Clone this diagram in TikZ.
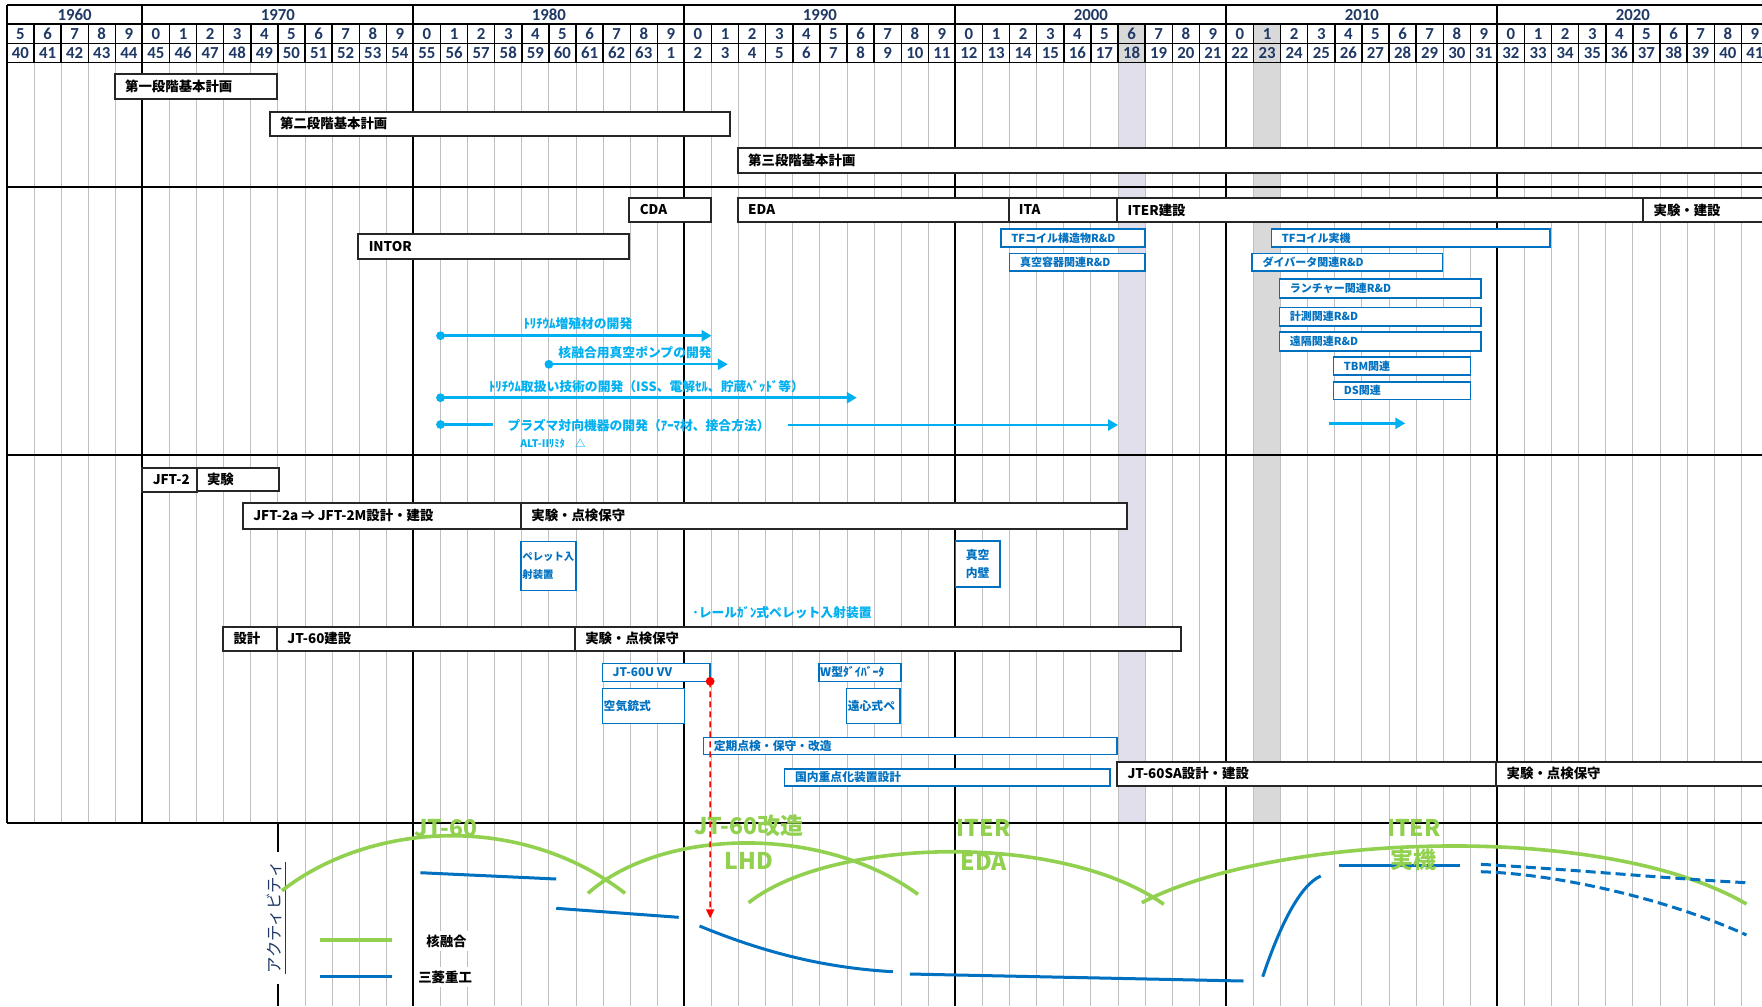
\documentclass[tikz,border=0pt]{standalone}
\usepackage{fontspec}
\setmainfont{Noto Sans CJK JP}
\newfontfamily\jpf{Noto Sans CJK JP}
\newfontfamily\numf{Carlito}
\usetikzlibrary{arrows.meta}
\definecolor{tnavy}{RGB}{31,56,100}
\definecolor{tgrid}{RGB}{191,191,191}
\definecolor{tcell}{RGB}{217,217,217}
\definecolor{tlav}{RGB}{225,223,236}
\definecolor{tblue}{RGB}{0,112,192}
\definecolor{tcyan}{RGB}{0,176,240}
\definecolor{tgreen}{RGB}{146,208,80}
\definecolor{tred}{RGB}{255,0,0}
\newcommand{\hdrfont}{\numf\bfseries\fontsize{8.4}{9}\selectfont}
\newcommand{\boxfont}{\jpf\bfseries\fontsize{6.7}{8}\selectfont}
\newcommand{\bluefont}{\jpf\bfseries\fontsize{5.9}{8.7}\selectfont}
\newcommand{\rdfont}{\jpf\bfseries\fontsize{5.5}{7}\selectfont}
\newcommand{\cyfont}{\jpf\bfseries\fontsize{6.4}{8}\selectfont}
\newcommand{\bigfont}{\jpf\bfseries\fontsize{11.5}{13}\selectfont}
% one bar of the chart: [text opts]{style}{name}{from}{to}{top}{bottom}{text}
\newcommand{\gbar}[8][]{%
  \node[#2, anchor=north west, minimum width={(#5-#4)*13.55pt},
        minimum height={(#7-#6)*0.5pt}] (#3) at (#4,#6) {};
  \node[#2 txt, anchor=west, #1] (#3-t) at (#3.west) {#8};}

\begin{document}
\begin{tikzpicture}[x=13.55pt,y=-0.5pt,
  hdr/.style={black,line width=0.7pt},
  dec/.style={black,line width=1pt},
  hdr txt/.style={font=\hdrfont,text=tnavy,inner sep=0pt},
  blk/.style={draw=black!85,line width=1pt,fill=white,inner sep=0pt,outer sep=0pt},
  blk txt/.style={font=\boxfont,inner xsep=5pt,inner ysep=0pt},
  blu/.style={draw=tblue,line width=0.8pt,fill=white,inner sep=0pt,outer sep=0pt},
  blu txt/.style={font=\bluefont,text=tblue,inner xsep=5pt,inner ysep=0pt},
  rnd/.style={blu},
  rnd txt/.style={font=\rdfont,text=tblue,inner xsep=5pt,inner ysep=0pt},
  cyarr/.style={draw=tcyan,line width=1.3pt,-{Triangle[length=5pt,width=5.5pt]}},
  cyline/.style={draw=tcyan,line width=1.3pt},
  cytxt/.style={font=\cyfont,text=tcyan,inner sep=0pt},
  grn/.style={draw=tgreen,line width=1.8pt},
  mhi/.style={draw=tblue,line width=1.5pt},
  mhidash/.style={mhi,dash pattern=on 5pt off 2.5pt},
  bigl/.style={font=\bigfont,text=tgreen,inner sep=0pt},
  legtxt/.style={font=\boxfont,fill=white,inner sep=2pt}]
 \clip (-0.2546,0) rectangle (64.763,1006);
 \fill[white] (-0.2546,0) rectangle (64.763,1006);

 % highlighted years (2006, 2011)
 \fill[tcell] (41,24) rectangle (42,62.7) (46,24) rectangle (47,62.7);
 \fill[tlav] (41,62.7) rectangle (42,823);
 \fill[tcell] (46,62.7) rectangle (47,823);

 % grid
 \foreach \i in {1,...,64} \draw[tgrid,line width=0.5pt] (\i,62.7) -- (\i,823);
 \foreach \i in {11,...,64} \draw[tgrid,line width=0.5pt] (\i,823) -- (\i,1006);
 \foreach \i in {0,...,64} \draw[hdr] (\i,24) -- (\i,62.7);
 \foreach \y in {5,24,43.3,62.7} \draw[hdr] (0,\y) -- (65,\y);
 \draw[dec] (0,5) -- (0,823);
 \foreach \d in {5,15,...,55} \draw[dec] (\d,5) -- (\d,823);
 \foreach \d in {15,25,...,55} \draw[dec] (\d,823) -- (\d,1006);
 \foreach \y in {186.7,455,823} \draw[dec] (0,\y) -- (65,\y);

 % header
 \foreach \d/\c in {1960/2.5,1970/10,1980/20,1990/30,2000/40,2010/50,2020/60}
   \node[hdr txt] (dec\d) at (\c,14.8) {\d};
 \foreach \i in {0,...,64}{
   \pgfmathtruncatemacro{\dg}{mod(\i+5,10)}
   \pgfmathtruncatemacro{\er}{\i<24 ? \i+40 : (\i==24 ? 1 : \i-23)}
   \node[hdr txt] (yr\i) at (\i+0.5,33.9) {\dg};
   \node[hdr txt] (er\i) at (\i+0.5,53.2) {\er};
 }

 % basic plans
 \gbar{blk}{stg1}{3.98}{9.98}{74.3}{99.3}{第一段階基本計画}
 \gbar{blk}{stg2}{9.7}{26.7}{111.7}{135.7}{第二段階基本計画}
 \gbar{blk}{stg3}{26.97}{66}{147.7}{172.7}{第三段階基本計画}

 % ITER
 \gbar{blk}{cda}{22.97}{25.97}{197.7}{222.3}{CDA}
 \gbar{blk}{eda}{26.97}{36.96}{197.7}{222.3}{EDA}
 \gbar{blk}{ita}{36.96}{40.97}{197.7}{222.3}{ITA}
 \gbar{blk}{iterc}{40.97}{60.38}{197.7}{222.3}{ITER建設}
 \gbar{blk}{iterx}{60.38}{66}{197.7}{222.3}{実験・建設}
 \gbar{blk}{intor}{12.97}{22.97}{234.3}{259.3}{INTOR}
 \gbar{rnd}{tfs}{36.68}{42}{229}{246.7}{TFコイル構造物R\&D}
 \gbar{rnd}{vvr}{37}{42}{253.3}{271}{真空容器関連R\&D}
 \gbar{rnd}{tfr}{46.66}{56.95}{229}{246.7}{TFコイル実機}
 \gbar{rnd}{div}{45.95}{52.97}{253.3}{271}{ダイバータ関連R\&D}
 \gbar{rnd}{lau}{46.96}{54.39}{279}{298}{ランチャー関連R\&D}
 \gbar{rnd}{diag}{46.96}{54.39}{307.3}{325.7}{計測関連R\&D}
 \gbar{rnd}{rh}{46.96}{54.39}{331.7}{351}{遠隔関連R\&D}
 \gbar{rnd}{tbm}{48.95}{54}{356.7}{375}{TBM関連}
 \gbar{rnd}{ds}{48.95}{54}{381.7}{399.3}{DS関連}

 % fusion technology
 \coordinate (tb-s) at (16,335.7);
 \coordinate (tb-e) at (26,335.7);
 \draw[cyarr] (tb-s) -- (tb-e);
 \fill[tcyan] (tb-s) circle (2.2pt);
 \node[cytxt] (tb-l) at (21.07,324) {ﾄﾘﾁｳﾑ増殖材の開発};
 \coordinate (vp-s) at (20,364.3);
 \coordinate (vp-e) at (26.6,364.3);
 \draw[cyarr,line width=1pt] (vp-s) -- (vp-e);
 \fill[tcyan] (vp-s) circle (2.2pt);
 \node[cytxt] (vp-l) at (23.18,352.7) {核融合用真空ポンプの開発};
 \coordinate (th-s) at (16,397.7);
 \coordinate (th-e) at (31.36,397.7);
 \draw[cyarr] (th-s) -- (th-e);
 \fill[tcyan] (th-s) circle (2.2pt);
 \node[cytxt] (th-l) at (23.6,386.7) {ﾄﾘﾁｳﾑ取扱い技術の開発（ISS、電解ｾﾙ、貯蔵ﾍﾞｯﾄﾞ等）};
 \coordinate (pf-s) at (16,424.5);
 \coordinate (pf-a) at (17.95,424.5);
 \coordinate (pf-b) at (28.82,425);
 \coordinate (pf-e) at (41,425);
 \draw[cyline] (pf-s) -- (pf-a);
 \draw[cyarr] (pf-b) -- (pf-e);
 \fill[tcyan] (pf-s) circle (2.2pt);
 \node[cytxt] (pf-l) at (23.31,426) {プラズマ対向機器の開発（ｱｰﾏ材、接合方法）};
 \node[cytxt,font=\jpf\bfseries\fontsize{5.2}{6}\selectfont,anchor=west] (alt) at (18.93,443.3) {ALT-IIﾘﾐﾀ\quad △};
 \coordinate (it-s) at (48.8,423.3);
 \coordinate (it-e) at (51.6,423.3);
 \draw[cyarr] (it-s) -- (it-e);

 % JFT-2 / JFT-2M
 \gbar{blk}{jft2}{5}{7}{467.7}{491.7}{JFT-2}
 \gbar{blk}{jft2x}{7}{10.03}{467.7}{490.7}{実験}
 \gbar{blk}{jft2m}{8.71}{18.97}{503.3}{528.5}{JFT-2a ⇒ JFT-2M設計・建設}
 \gbar{blk}{jft2mx}{18.97}{41.33}{503.3}{528.5}{実験・点検保守}
 \gbar[align=left,inner xsep=0.5pt,font=\jpf\bfseries\fontsize{5.2}{8.7}\selectfont]{blu}{pel}{18.97}{21}{541.3}{590.3}{ペレット入\\射装置}
 \gbar[align=center]{blu}{vw}{35}{36.65}{541}{587}{真空\\内壁}
 \node[cytxt,anchor=west] (rg) at (25.28,612.3) {･レールｶﾞﾝ式ペレット入射装置};

 % JT-60 / JT-60SA
 \gbar{blk}{jt60d}{7.98}{9.97}{626.7}{651}{設計}
 \gbar{blk}{jt60c}{9.97}{20.96}{626.7}{651}{JT-60建設}
 \gbar{blk}{jt60x}{20.96}{43.32}{626.7}{651}{実験・点検保守}
 \gbar{blu}{vvu}{21.97}{25.95}{663.3}{681.3}{JT-60U VV}
 \gbar[inner xsep=0.5pt]{blu}{air}{21.97}{25}{688.3}{723.3}{空気銃式}
 \gbar[inner xsep=0.5pt]{blu}{wdiv}{29.96}{33}{663.3}{681.3}{W型ﾀﾞｲﾊﾞｰﾀ}
 \gbar[inner xsep=0.5pt]{blu}{cen}{30.98}{32.96}{688.3}{723.3}{遠心式ペ}
 \gbar{blu}{maint}{25.7}{40.97}{737.3}{754.3}{定期点検・保守・改造}
 \gbar{blu}{dom}{28.7}{40.7}{768.7}{786}{国内重点化装置設計}
 \gbar{blk}{sac}{40.97}{54.96}{761.7}{786}{JT-60SA設計・建設}
 \gbar{blk}{sax}{54.96}{66}{761.7}{786}{実験・点検保守}

 % activity
 \draw[dec] (10,823) -- (10,1006);
 \node[rotate=90,fill=white,inner xsep=5pt,inner ysep=2pt,text=tnavy,
   font=\jpf\fontsize{8.2}{9}\selectfont] (act) at (9.96,917.5) {\underline{アクティビティ}};
 \draw[grn] (10.15,890.7) .. controls (13.40,822) and (18.93,812) .. (22.81,893.3);
 \draw[grn] (21.44,893.3) .. controls (24.10,829) and (30.0,823) .. (33.62,894.3);
 \draw[grn] (27.37,902.7) .. controls (30.37,838) and (38.86,831) .. (42.69,904.3);
 \draw[grn] (41.88,902.7) .. controls (46.61,835) and (58.79,819) .. (64.19,904);
 \draw[mhi] (15.26,872.7) -- (20.27,879);
 \draw[mhi] (20.27,908.3) -- (24.79,917.3);
 \draw[mhi] (25.56,926) .. controls (28.16,955) and (30.37,968) .. (32.69,971.7);
 \draw[mhi] (33.32,974) -- (45.63,981);
 \draw[mhi] (46.34,976.7) .. controls (46.98,925) and (47.72,885) .. (48.48,876);
 \draw[mhi] (49.14,865.7) -- (53.61,865.7);
 \draw[mhidash] (54.39,864.3) .. controls (58.05,870) and (61.0,878) .. (64.19,882.7);
 \draw[mhidash] (54.39,871.7) .. controls (57.31,874) and (61.37,900) .. (64.19,935);
 \node[bigl] (lb-jt60) at (16.2,828.3) {JT-60};
 \node[bigl] (lb-jt60m) at (27.38,826) {JT-60改造};
 \node[bigl] (lb-lhd) at (27.38,860.7) {LHD};
 \node[bigl] (lb-iter1) at (36.04,828.3) {ITER};
 \node[bigl] (lb-eda) at (36.04,861.7) {EDA};
 \node[bigl] (lb-iter2) at (51.92,828) {ITER};
 \node[bigl] (lb-jikki) at (51.92,860) {実機};

 % JT-60U modification
 \coordinate (red-e) at (25.95,918.3);
 \draw[tred,line width=0.8pt,dash pattern=on 3pt off 2pt,
   -{Triangle[length=4.5pt,width=4pt]}] (vvu.south east) -- (red-e);
 \fill[tred] (vvu.south east) circle (2.2pt);

 % legend
 \draw[grn] (11.57,940) -- (14.21,940);
 \draw[mhi] (11.57,976) -- (14.21,976);
 \node[legtxt] (lg-fus) at (16.22,941) {核融合};
 \node[legtxt] (lg-mhi) at (16.17,977) {三菱重工};
\end{tikzpicture}
\end{document}
